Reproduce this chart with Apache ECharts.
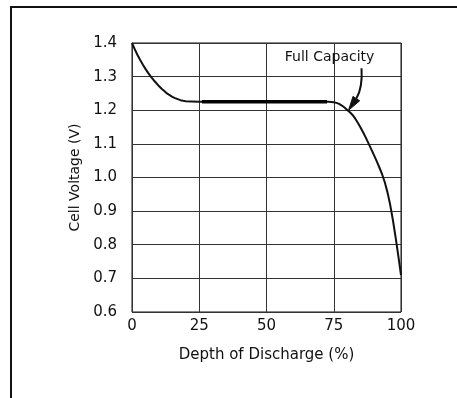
<!DOCTYPE html>
<html>
<head>
<meta charset="utf-8">
<script src="https://cdn.jsdelivr.net/npm/echarts@6/dist/echarts.min.js"></script>
<style>
  html, body { margin: 0; padding: 0; background: #fff; }
  #chart { width: 457px; height: 398px; }
</style>
</head>
<body>
<div id="chart"></div>
<script>
// depth of discharge (%) and cell voltage (V)
const depth = [
  0, 1, 2, 3, 4, 5, 6, 7, 8, 9, 10, 11, 12, 13, 14, 15, 16, 17, 18, 19, 20, 22, 25,
  50, 73, 75, 76, 77, 78, 79, 80, 81, 82, 83, 84, 85, 86, 87, 88, 89, 90,
  91, 92, 93, 94, 95, 96, 97, 98, 99, 100
];
const voltage = [
  1.400, 1.382, 1.365, 1.350, 1.336, 1.323, 1.311, 1.300, 1.290, 1.281, 1.272, 1.264,
  1.257, 1.250, 1.245, 1.240, 1.236, 1.233, 1.230, 1.228, 1.227, 1.226, 1.225,
  1.225, 1.225, 1.224, 1.222, 1.219, 1.214, 1.208, 1.201, 1.194, 1.186, 1.175, 1.162,
  1.148, 1.133, 1.117, 1.100, 1.083, 1.066, 1.048, 1.029, 1.009, 0.985, 0.955, 0.918,
  0.873, 0.822, 0.767, 0.710
];
// the heavier stretch of the flat part
const plateauDepth = [26, 72.5];
const plateauVoltage = [1.225, 1.225];
const xTicks = [0, 25, 50, 75, 100];
const yTicks = [0.6, 0.7, 0.8, 0.9, 1.0, 1.1, 1.2, 1.3, 1.4];
const noteAt = [80.5, 1.2];

const chart = echarts.init(document.getElementById("chart"));
const font = "DejaVu Sans";

const options = {
  animation: false,
  backgroundColor: "#fff",
  grid: {
    left: 132, right: 56, top: 43, bottom: 86,
    show: true, borderColor: "#111", borderWidth: 1
  },
  xAxis: {
    type: "value",
    min: xTicks[0], max: xTicks[xTicks.length - 1], interval: 25,
    name: "Depth of Discharge (%)",
    nameLocation: "middle", nameGap: 36,
    nameTextStyle: { color: "#111", fontFamily: font, fontSize: 15 },
    axisLine: { show: false },
    axisTick: { show: false },
    axisLabel: { color: "#111", fontFamily: font, fontSize: 15, margin: 7 },
    splitLine: { lineStyle: { color: "#333", width: 1 } }
  },
  yAxis: {
    type: "value",
    min: yTicks[0], max: yTicks[yTicks.length - 1], interval: 0.1,
    name: "Cell Voltage (V)",
    nameLocation: "middle", nameGap: 50,
    nameTextStyle: { color: "#111", fontFamily: font, fontSize: 14 },
    axisLine: { show: false },
    axisTick: { show: false },
    axisLabel: {
      color: "#111", fontFamily: font, fontSize: 15, margin: 15,
      formatter: (v) => v.toFixed(1)
    },
    splitLine: { lineStyle: { color: "#333", width: 1 } }
  },
  series: [
    {
      type: "line",
      data: depth.map((d, i) => [d, voltage[i]]),
      showSymbol: false,
      lineStyle: { color: "#111", width: 2, join: "round" },
      z: 3
    },
    {
      type: "line",
      data: plateauDepth.map((d, i) => [d, plateauVoltage[i]]),
      showSymbol: false,
      lineStyle: { color: "#000", width: 3.5 },
      z: 4
    }
  ]
};
chart.setOption(options);

// callout: text plus curved arrow pointing at the knee of the curve
const [tx, ty] = chart.convertToPixel({ gridIndex: 0 }, noteAt);
const ux = -0.555, uy = 0.832;            // arrow direction at the tip
const headLen = 14, headHalf = 4;
const bx = tx - headLen * ux, by = ty - headLen * uy;
const px = uy, py = -ux;

chart.setOption({
  graphic: [
    {
      type: "polyline",
      shape: { points: [[11, 400], [11, 7], [460, 7]] },
      style: { stroke: "#111", lineWidth: 2, fill: null },
      silent: true
    },
    {
      type: "text",
      x: tx - 19, y: ty - 53,
      style: {
        text: "Full Capacity", fill: "#111", font: "14px " + font,
        textAlign: "center", textVerticalAlign: "middle"
      }
    },
    {
      type: "bezierCurve",
      shape: {
        x1: tx + 13, y1: ty - 42,
        cpx1: tx + 14, cpy1: ty - 25,
        cpx2: tx + 11, cpy2: ty - 17,
        x2: bx, y2: by
      },
      style: { stroke: "#111", lineWidth: 2, fill: null }
    },
    {
      type: "polygon",
      shape: {
        points: [
          [tx, ty],
          [bx + headHalf * px, by + headHalf * py],
          [bx - headHalf * px, by - headHalf * py]
        ]
      },
      style: { fill: "#111", stroke: "#111", lineWidth: 1 }
    }
  ]
});
</script>
</body>
</html>
